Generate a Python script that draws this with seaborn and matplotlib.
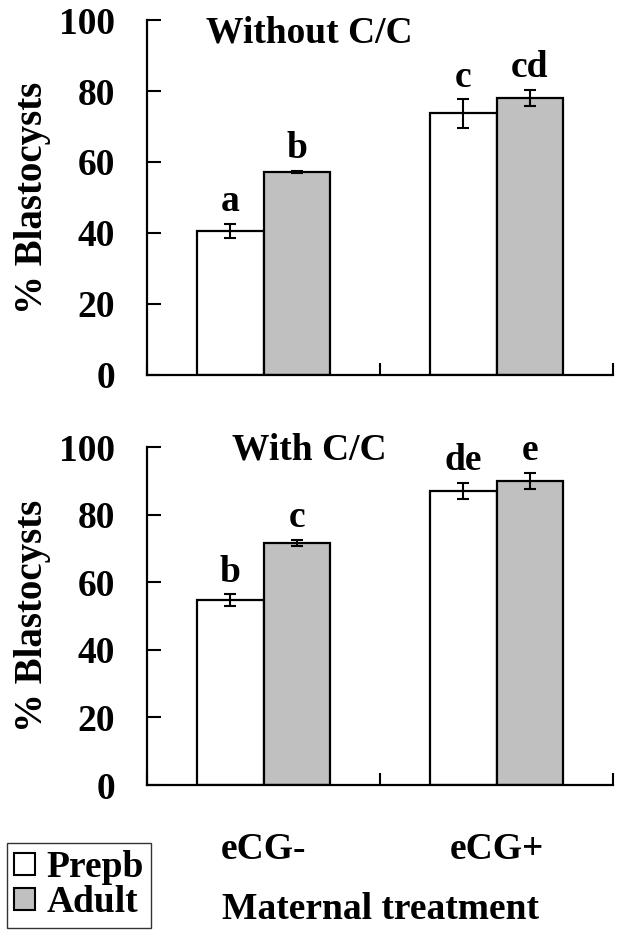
import matplotlib
matplotlib.use("Agg")
import matplotlib.pyplot as plt
import matplotlib.patches as mpatches
import seaborn as sns
import pandas as pd
import numpy as np

sns.set_theme(style="white")
plt.rcParams.update({
    'font.family': ['Liberation Serif', 'DejaVu Serif'],
    'font.weight': 'bold',
    'axes.labelweight': 'bold',
    'font.size': 27,
    'text.color': 'black',
    'axes.labelcolor': 'black',
    'xtick.color': 'black',
    'ytick.color': 'black',
})

# data
treatments = ["eCG-", "eCG+"]
ages = ["Prepb", "Adult"]

without_prepb = [40.6, 73.7]
without_adult = [57.2, 78.1]
without_prepb_err = [2.0, 4.0]
without_adult_err = [0.4, 2.2]
without_prepb_letters = ["a", "c"]
without_adult_letters = ["b", "cd"]

with_prepb = [54.7, 87.0]
with_adult = [71.6, 90.0]
with_prepb_err = [1.7, 2.4]
with_adult_err = [1.0, 2.4]
with_prepb_letters = ["b", "de"]
with_adult_letters = ["c", "e"]

colors = {"Prepb": "white", "Adult": "#C0C0C0"}


def make_df(prepb, adult):
    return pd.DataFrame({
        "Treatment": treatments * 2,
        "Age": ["Prepb"] * len(treatments) + ["Adult"] * len(treatments),
        "Value": list(prepb) + list(adult),
    })


def draw_panel(ax, prepb, adult, errs, letters, title, title_y):
    df = make_df(prepb, adult)
    sns.barplot(data=df, x="Treatment", y="Value", hue="Age", order=treatments,
                hue_order=ages, palette=colors, edgecolor="black", linewidth=1.6,
                width=0.57, gap=0, errorbar=None, legend=False, ax=ax, zorder=2)
    for cont, err, labs in zip(ax.containers, errs, letters):
        xs = [b.get_x() + b.get_width() / 2 for b in cont]
        ys = [b.get_height() for b in cont]
        ax.errorbar(xs, ys, yerr=err, fmt="none", ecolor="black",
                    elinewidth=1.5, capsize=4.5, capthick=1.5, zorder=3)
        for x, y, e, lab in zip(xs, ys, err, labs):
            ax.annotate(lab, xy=(x, y + e), xytext=(0, 9), textcoords="offset points",
                        ha="center", va="baseline", fontsize=27, fontweight="bold",
                        color="black")

    ax.set_xlim(-0.5, 1.5)
    ax.set_ylim(0, 100)
    ax.set_yticks([0, 20, 40, 60, 80, 100])
    ax.set_xticks([-0.5, 0.5, 1.5], minor=True)
    ax.tick_params(axis="y", direction="in", length=10, width=1.5, pad=23,
                   labelsize=27, left=True, colors="black")
    ax.tick_params(axis="x", which="minor", direction="in", length=9, width=1.5,
                   bottom=True, color="black")
    ax.tick_params(axis="x", which="major", length=0)
    for s in ["top", "right"]:
        ax.spines[s].set_visible(False)
    for s in ["left", "bottom"]:
        ax.spines[s].set_color("black")
        ax.spines[s].set_linewidth(1.6)
    ax.set_ylabel("% Blastocysts", fontsize=28, color="black")
    ax.yaxis.set_label_coords(-0.205, 0.5)
    ax.text(0.348, title_y, title, transform=ax.transAxes, ha="center",
            va="baseline", fontsize=27, fontweight="bold", color="black")
    ax.grid(False)


fig = plt.figure(figsize=(6.23, 9.44), dpi=100)
ax1 = fig.add_axes([0.236, 0.6028, 0.748, 0.376])
ax2 = fig.add_axes([0.236, 0.1684, 0.748, 0.358])

draw_panel(ax1, without_prepb, without_adult,
           [without_prepb_err, without_adult_err],
           [without_prepb_letters, without_adult_letters],
           "Without C/C", 0.938)
draw_panel(ax2, with_prepb, with_adult,
           [with_prepb_err, with_adult_err],
           [with_prepb_letters, with_adult_letters],
           "With C/C", 0.962)

ax1.set_xticklabels([])
ax1.set_xlabel("")
ax2.tick_params(axis="x", which="major", pad=34, labelsize=27, colors="black")
ax2.set_xlabel("Maternal treatment", fontsize=27, labelpad=18, color="black")

handles = [mpatches.Patch(facecolor=colors[a], edgecolor="black", linewidth=1.5, label=a)
           for a in ages]
leg = fig.legend(handles=handles, loc="lower left", bbox_to_anchor=(0.011, 0.017),
                 fontsize=27, frameon=True, fancybox=False, handlelength=0.55,
                 handleheight=0.55, handletextpad=0.3, borderpad=0.2,
                 labelspacing=0.0, borderaxespad=0, labelcolor="black")
leg.get_frame().set_edgecolor("black")
leg.get_frame().set_linewidth(1.0)

fig.savefig("out.png", dpi=100)
